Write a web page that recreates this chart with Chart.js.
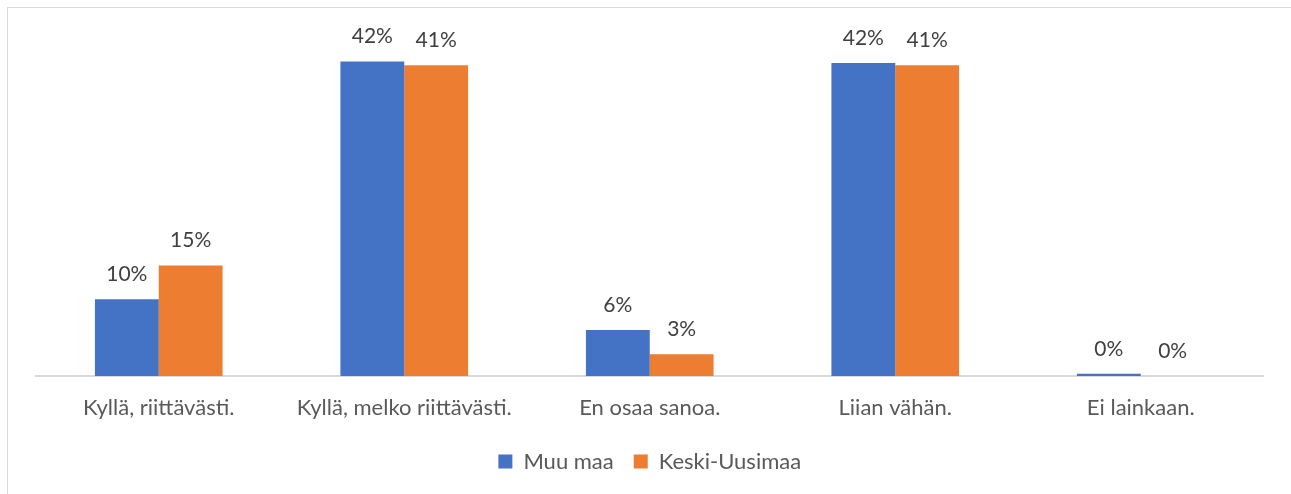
<!DOCTYPE html>
<html>
<head>
<meta charset="utf-8">
<script src="https://cdn.jsdelivr.net/npm/chart.js@4.4.0/dist/chart.umd.min.js"></script>
<style>
    html, body { margin: 0; padding: 0; background: #fff; }
    #frame { position: absolute; left: 7px; top: 7px; width: 1300px; height: 500px; border: 1px solid #d9d9d9; box-sizing: border-box; }
    #wrap { position: absolute; left: 0; top: 0; width: 1291px; height: 494px; }
</style>
</head>
<body>
<div id="frame"></div>
<div id="wrap"><canvas id="answersChart" width="1291" height="494"></canvas></div>
<script>
const categories = ['Kyllä, riittävästi.', 'Kyllä, melko riittävästi.', 'En osaa sanoa.', 'Liian vähän.', 'Ei lainkaan.'];
const muuMaa = [10.2, 41.8, 6.1, 41.6, 0.3];        // Muu maa, %
const keskiUusimaa = [14.7, 41.3, 2.9, 41.3, 0];    // Keski-Uusimaa, %
const seriesNames = ['Muu maa', 'Keski-Uusimaa'];

const fontName = 'Lato, "Open Sans", sans-serif';

// Draws the percent label above every bar
const barLabels = {
    id: 'barLabels',
    afterDatasetsDraw(chart) {
        const ctx = chart.ctx;
        ctx.save();
        ctx.font = `21px ${fontName}`;
        ctx.fillStyle = '#404040';
        ctx.textAlign = 'center';
        ctx.textBaseline = 'middle';
        chart.data.datasets.forEach((ds, i) => {
            chart.getDatasetMeta(i).data.forEach((bar, j) => {
                ctx.fillText(`${Math.round(ds.data[j])}%`, bar.x, bar.y - 25);
            });
        });
        ctx.restore();
    }
};

const data = {
    labels: categories,
    datasets: [
        { label: seriesNames[0], data: muuMaa, backgroundColor: '#4472C4' },
        { label: seriesNames[1], data: keskiUusimaa, backgroundColor: '#ED7D31' }
    ]
};

const config = {
    type: 'bar',
    data: data,
    plugins: [barLabels],
    options: {
        responsive: false,
        animation: false,
        datasets: { bar: { categoryPercentage: 0.52, barPercentage: 1 } },
        layout: { padding: { left: 36, right: 27.5, top: 37.5, bottom: 11.5 } },
        scales: {
            x: {
                grid: { display: false, drawTicks: false },
                border: { color: '#d9d9d9', width: 2 },
                ticks: { color: '#595959', padding: 19, font: { family: fontName, size: 22 } },
                afterFit: (scale) => { scale.height = 54.5; } // keeps axis line and legend where they sit in the picture
            },
            y: { display: false, min: 0, max: 45 }
        },
        plugins: {
            legend: {
                position: 'bottom',
                labels: {
                    color: '#595959',
                    boxWidth: 14, boxHeight: 14,
                    padding: 20,
                    font: { family: fontName, size: 22 }
                }
            },
            tooltip: { enabled: false }
        }
    }
};

try {
    new Chart(document.getElementById('answersChart'), config);
}
catch (e) {
    document.body.insertAdjacentText('beforeend', 'Error draw chart');
}
</script>
</body>
</html>
